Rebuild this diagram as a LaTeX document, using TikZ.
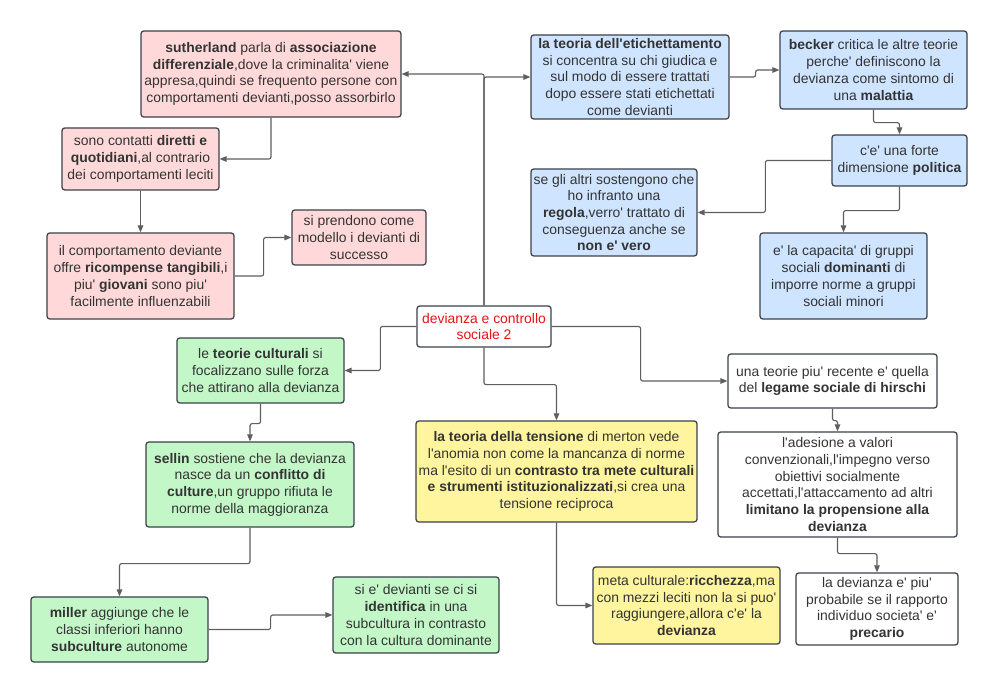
\documentclass[tikz,border=0pt]{standalone}
\usepackage{fontspec}
\newfontfamily\lucid{Liberation Sans}
\usetikzlibrary{arrows.meta}
\definecolor{pinkfill}{HTML}{FFD9D9}
\definecolor{bluefill}{HTML}{CFE4FF}
\definecolor{greenfill}{HTML}{C3F7C8}
\definecolor{yellowfill}{HTML}{FFF59F}
\definecolor{edgecolor}{HTML}{3A414A}
\definecolor{linkcolor}{HTML}{5E5E5E}
\definecolor{txtcolor}{HTML}{333333}
\definecolor{titlered}{HTML}{E81313}

\begin{document}
\begin{tikzpicture}[
    every node/.style={font=\lucid\fontsize{9.9}{11.9}\selectfont, text=txtcolor},
    card/.style={
        rectangle, rounded corners=2pt, draw=edgecolor, line width=0.9pt,
        align=center, inner sep=0pt,
    },
    pinkcard/.style={card, fill=pinkfill},
    bluecard/.style={card, fill=bluefill},
    greencard/.style={card, fill=greenfill},
    yellowcard/.style={card, fill=yellowfill},
    whitecard/.style={card, fill=white},
    link/.style={-{Triangle[length=5pt, width=4pt]}, line width=0.8pt,
        color=linkcolor, rounded corners=1.5pt},
]
\useasboundingbox (0, 0) rectangle (25, 17.35);

% ================================================ centre
\node[whitecard, text=titlered, minimum width=3.35cm, minimum height=1.025cm]
    (cent) at (12.100, 9.1875) {devianza e controllo\\ sociale 2};

% ================================================ pink: association
\node[pinkcard, minimum width=6.50cm, minimum height=2.15cm] (suth) at (6.775, 15.50)
    {\textbf{sutherland} parla di \textbf{associazione}\\
     \textbf{differenziale},dove la criminalita' viene\\
     appresa,quindi se frequento persone con\\
     comportamenti devianti,posso assorbirlo};
\node[pinkcard, minimum width=3.925cm, minimum height=1.55cm] (dir) at (3.5125, 13.375)
    {sono contatti \textbf{diretti e}\\
     \textbf{quotidiani},al contrario\\
     dei comportamenti leciti};
\node[pinkcard, minimum width=4.675cm, minimum height=2.15cm] (comp) at (3.5125, 10.45)
    {il comportamento deviante\\
     offre \textbf{ricompense tangibili},i\\
     piu' \textbf{giovani} sono piu'\\
     facilmente influenzabili};
\node[pinkcard, minimum width=3.35cm, minimum height=1.375cm] (prend) at (8.975, 11.4125)
    {si prendono come\\ modello i devianti di\\ successo};

% ================================================ blue: labelling
\node[bluecard, minimum width=4.95cm, minimum height=2.10cm] (etic) at (15.75, 15.425)
    {\textbf{la teoria dell'etichettamento}\\
     si concentra su chi giudica e\\
     sul modo di essere trattati\\
     dopo essere stati etichettati\\
     come devianti};
\node[bluecard, minimum width=4.675cm, minimum height=1.95cm] (beck) at (21.8375, 15.60)
    {\textbf{becker} critica le altre teorie\\
     perche' definiscono la\\
     devianza come sintomo di\\
     una \textbf{malattia}};
\node[bluecard, minimum width=3.375cm, minimum height=1.275cm] (pol) at (22.4875, 13.3375)
    {c'e' una forte\\ dimensione \textbf{politica}};
\node[bluecard, minimum width=4.15cm, minimum height=2.175cm] (altri) at (15.35, 12.0375)
    {se gli altri sostengono che\\
     ho infranto una\\
     \textbf{regola},verro' trattato di\\
     conseguenza anche se\\
     \textbf{non e' vero}};
\node[bluecard, minimum width=4.175cm, minimum height=2.15cm] (cap) at (21.0875, 10.45)
    {e' la capacita' di gruppi\\
     sociali \textbf{dominanti} di\\
     imporre norme a gruppi\\
     sociali minori};

% ================================================ green: cultural theories
\node[greencard, minimum width=4.175cm, minimum height=1.625cm] (cult) at (6.5125, 8.0875)
    {le \textbf{teorie culturali} si\\
     focalizzano sulle forza\\
     che attirano alla devianza};
\node[greencard, minimum width=5.20cm, minimum height=2.125cm] (sell) at (6.25, 5.2375)
    {\textbf{sellin} sostiene che la devianza\\
     nasce da un \textbf{conflitto di}\\
     \textbf{culture},un gruppo rifiuta le\\
     norme della maggioranza};
\node[greencard, minimum width=4.425cm, minimum height=1.625cm] (mill) at (2.9875, 1.6125)
    {\textbf{miller} aggiunge che le\\
     classi inferiori hanno\\
     \textbf{subculture} autonome};
\node[greencard, minimum width=4.15cm, minimum height=1.90cm] (ident) at (10.40, 1.975)
    {si e' devianti se ci si\\
     \textbf{identifica} in una\\
     subcultura in contrasto\\
     con la cultura dominante};

% ================================================ yellow: strain
\node[yellowcard, minimum width=7.025cm, minimum height=2.525cm] (tens) at (13.9125, 5.5625)
    {\textbf{la teoria della tensione} di merton vede\\
     l'anomia non come la mancanza di norme\\
     ma l'esito di un \textbf{contrasto tra mete culturali}\\
     \textbf{e strumenti istituzionalizzati},si crea una\\
     tensione reciproca};
\node[yellowcard, minimum width=4.675cm, minimum height=1.925cm] (meta) at (17.1625, 2.2125)
    {meta culturale:\textbf{ricchezza},ma\\
     con mezzi leciti non la si puo'\\
     raggiungere,allora c'e' la\\
     \textbf{devianza}};

% ================================================ white: social bond
\node[whitecard, minimum width=5.225cm, minimum height=1.35cm] (hirs) at (20.8125, 7.825)
    {una teorie piu' recente e' quella\\
     del \textbf{legame sociale di hirschi}};
\node[whitecard, minimum width=5.975cm, minimum height=2.625cm] (ades) at (20.9375, 5.2375)
    {l'adesione a valori\\
     convenzionali,l'impegno verso\\
     obiettivi socialmente\\
     accettati,l'attaccamento ad altri\\
     \textbf{limitano la propensione alla}\\
     \textbf{devianza}};
\node[whitecard, minimum width=4.05cm, minimum height=1.80cm] (prec) at (21.925, 2.125)
    {la devianza e' piu'\\
     probabile se il rapporto\\
     individuo societa' e'\\
     \textbf{precario}};

% ================================================ connectors
\draw[link] (cent.north) |- (suth.east);
\draw[link] (cent.north) |- (etic.west);
\draw[link] (cent.west) -- ++(-0.90, 0) |- (cult.east);
\draw[link] (cent.south) -- ++(0, -0.925) -| (tens.north);
\draw[link] (cent.east) -- ++(2.225, 0) |- (hirs.west);

\draw[link] (suth.south) |- (dir.east);
\draw[link] (dir.south) -- (comp.north);
\draw[link] (comp.east) -- ++(0.725, 0) |- (prend.west);

\draw[link] (etic.east) -- ++(0.65, 0) |- (beck.west);
\draw[link] (beck.south) -- ++(0, -0.325) -| (pol.north);
\draw[link] (pol.west) -- ++(-1.65, 0) |- (altri.east);
\draw[link] (pol.south) -- ++(0, -0.60) -| (cap.north);

\draw[link] (cult.south) -- ++(0, -0.50) -| (sell.north);
\draw[link] (sell.south) -- ++(0, -0.90) -| (mill.north);
\draw[link] (mill.east) -- ++(1.55, 0) |- (ident.west);

\draw[link] (tens.south) |- (meta.west);

\draw[link] (hirs.south) -- ++(0, -0.30) -| (ades.north);
\draw[link] (ades.south) -- ++(0, -0.40) -| (prec.north);

\end{tikzpicture}
\end{document}
